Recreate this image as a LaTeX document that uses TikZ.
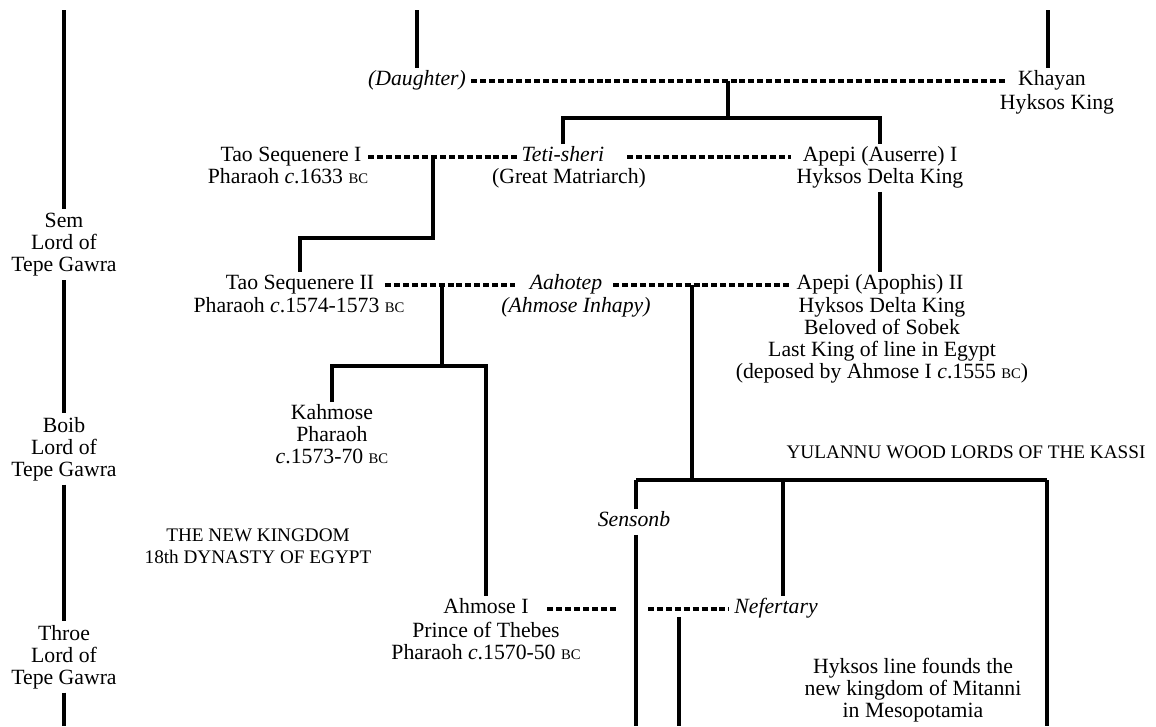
\documentclass[tikz,border=0pt]{standalone}
\usepackage{fontspec}
\setmainfont{Liberation Serif}
\newcommand{\BCx}{{\fontsize{11}{12}\selectfont BC}}
\tikzset{
  txt/.style={font=\fontsize{16.3}{16.5}\selectfont, inner sep=2pt},
  person/.style={txt, text height=11pt, text depth=4pt},
  desc/.style={txt, align=center, inner sep=0pt, outer sep=3pt, anchor=north},
  caps/.style={font=\fontsize{14.4}{16.5}\selectfont, align=center, inner sep=0pt},
  tie/.style={line width=2.5pt, dash pattern=on 4.5pt off 2.2pt},
  link/.style={line width=2.4pt},
}
\begin{document}
\begin{tikzpicture}[x=0.75pt, y=-0.75pt]
\fill[white] (0,0) rectangle (1156,726);
\useasboundingbox (0,0) rectangle (1156,726);

% --- Lords of Tepe Gawra (left column) ---
\node[desc] (sem)   at (64,209) {Sem\\Lord of\\Tepe Gawra};
\node[desc] (boib)  at (64,413) {Boib\\Lord of\\Tepe Gawra};
\node[desc] (throe) at (64,621) {Throe\\Lord of\\Tepe Gawra};
\coordinate (topL) at (64,10);
\coordinate (botL) at (64,726);
\draw[link] (topL) -- (sem);
\draw[link] (sem) -- (boib);
\draw[link] (boib) -- (throe);
\draw[link] (throe) -- (botL);

% --- generation 0 ---
\node[person] (daughter) at (417,81) {\textit{(Daughter)}};
\node[person] (khayan) at (1052,81) {Khayan};
\node[desc] (khayanSub) at (1057,90) {Hyksos King};
\coordinate (t1) at (417,10);
\coordinate (t2) at (1048,10);
\draw[link] (t1) -- (daughter);
\draw[link] (t2) -- (t2 |- khayan.north);
\draw[tie, shorten <=2pt, shorten >=6pt] (daughter) -- (khayan);

% --- generation 1 ---
\node[person] (taoI) at (291,157) {Tao Sequenere I};
\node[desc] (taoIsub) at (288,164) {Pharaoh \textit{c}.1633 \BCx};
\node[person] (teti) at (563,157) {\textit{Teti-sheri}};
\node[desc] (tetiSub) at (569,164) {(Great Matriarch)};
\node[person] (apepiI) at (880,157) {Apepi (Auserre) I};
\node[desc] (apepiIsub) at (880,164) {Hyksos Delta King};

\coordinate (u1) at (728,81);
\coordinate (j1) at (728,118);
\draw[link] (u1) -- (j1);
\draw[link] (teti.north) |- (j1) -| (apepiI.north);
\draw[tie, shorten <=3pt] (taoI) -- (teti);
\draw[tie, shorten <=15pt, shorten >=7pt] (teti) -- (apepiI);

% --- generation 2 ---
\node[person] (taoII) at (300,285) {Tao Sequenere II};
\node[desc] (taoIIsub) at (299,293) {Pharaoh \textit{c}.1574-1573 \BCx};
\node[person] (aahotep) at (566,285) {\textit{Aahotep}};
\node[desc] (aahotepSub) at (576,293) {\textit{(Ahmose Inhapy)}};
\node[person] (apepiII) at (880,285) {Apepi (Apophis) II};
\node[desc] (apepiIIsub) at (882,293) {Hyksos Delta King\\Beloved of Sobek\\Last King of line in Egypt\\(deposed by Ahmose I \textit{c}.1555 \BCx)};

\coordinate (u2) at (433,157);
\coordinate (j2) at (433,238);
\draw[link] (u2) -- (j2) -| (taoII.north);
\draw[link] (apepiIsub) -- (apepiII);
\draw[tie, shorten <=6pt, shorten >=9pt] (taoII) -- (aahotep);
\draw[tie, shorten <=6pt, shorten >=3pt] (aahotep) -- (apepiII);

% --- generation 3 ---
\node[person] (kahmose) at (332,415) {Kahmose};
\node[desc] (kahmoseSub) at (332,422) {Pharaoh\\\textit{c}.1573-70 \BCx};
\node[person] (ahmose) at (486,609) {Ahmose I};
\node[desc] (ahmoseSub) at (486,618) {Prince of Thebes\\Pharaoh \textit{c}.1570-50 \BCx};
\node[person] (sensonb) at (634,522) {\textit{Sensonb}};
\node[person] (nefertary) at (776,609) {\textit{Nefertary}};

\coordinate (u3) at (442,285);
\coordinate (j3) at (442,366);
\draw[link] (u3) -- (j3);
\draw[link] (kahmose.north) |- (j3) -| (ahmose.north);

\coordinate (u4) at (692,285);
\coordinate (j4) at (692,480);
\coordinate (k1) at (636,480);
\coordinate (k2) at (783,480);
\coordinate (k3) at (1047,480);
\coordinate (b1) at (636,726);
\coordinate (b3) at (1047,726);
\draw[link] (u4) -- (j4);
\draw[link] (k1) -- (k3);
\draw[link] (k1) -- (k1 |- sensonb.north);
\draw[link] (k1 |- sensonb.south) -- (b1);
\draw[link] (k2) -- (k2 |- nefertary.north);
\draw[link] (k3) -- (b3);

\coordinate (g1) at (618,609);
\coordinate (g2) at (648,609);
\draw[tie, shorten <=12pt] (ahmose) -- (g1);
\draw[tie, shorten >=2pt] (g2) -- (nefertary);
\coordinate (u5) at (679,617);
\coordinate (b5) at (679,726);
\draw[link] (u5) -- (b5);

% --- headings and notes ---
\node[caps] (yulannu) at (966,452) {YULANNU WOOD LORDS OF THE KASSI};
\node[caps, anchor=north] (newkingdom) at (258,529) {THE NEW KINGDOM\\18th DYNASTY OF EGYPT};
\node[desc] (hyksosLine) at (913,654) {Hyksos line founds the\\new kingdom of Mitanni\\in Mesopotamia};
\end{tikzpicture}
\end{document}
